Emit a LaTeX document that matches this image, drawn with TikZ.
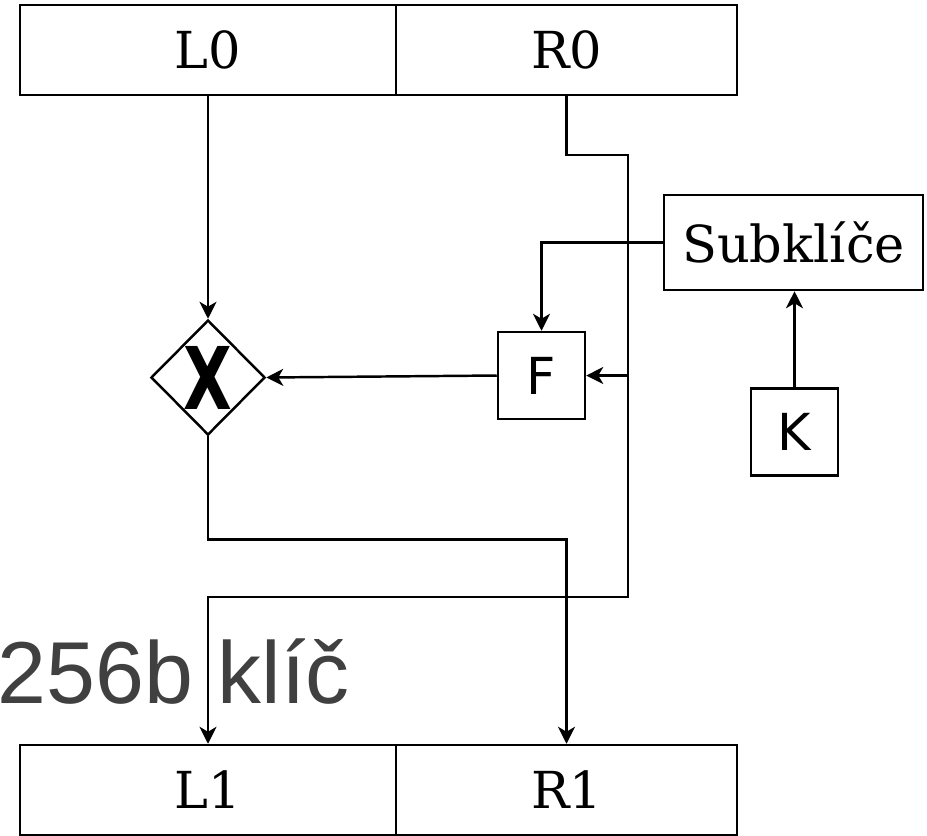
\documentclass[tikz,border=0pt]{standalone}
\usepackage{fontspec}
\setmainfont{DejaVu Serif}
\newfontfamily\dvsans{DejaVu Sans}
\newfontfamily\arialfont{Liberation Sans}
\usetikzlibrary{arrows.meta,positioning,shapes.geometric}
\definecolor{keygray}{HTML}{404040}

\begin{document}
\begin{tikzpicture}[x=0.01cm, y=-0.01cm, line width=0.7pt,
  half/.style={draw, inner sep=0pt, minimum height=0.9cm, font=\fontsize{14.5}{17}\selectfont},
  box/.style={draw, inner sep=0pt, font=\dvsans\fontsize{14.5}{17}\selectfont},
  arr/.style={-{Stealth[length=0.17cm, width=0.17cm, inset=0.05cm]}}]
  \useasboundingbox (0,0) rectangle (927,835);

  % Key size label
  \node[anchor=base east, inner sep=0pt, text=keygray, font=\arialfont\fontsize{25}{30}\selectfont] (keylabel) at (351,703) {/256b klíč};

  % Input halves
  \node[half, minimum width=3.76cm] (L0) at (208,50) {L0};
  \node[half, minimum width=3.41cm] (R0) at (566.5,50) {R0};

  % Output halves
  \node[half, minimum width=3.76cm] (L1) at (208,790) {L1};
  \node[half, minimum width=3.41cm] (R1) at (566.5,790) {R1};

  % Round function and key schedule
  \node[box, minimum size=0.87cm] (F) at (541.5,375.5) {F};
  \node[box, minimum width=2.59cm, minimum height=0.95cm, font=\rmfamily\fontsize{14.5}{17}\selectfont] (sub) at (793.5,242.5) {Subklíče};
  \node[box, minimum size=0.87cm] (K) at (794.5,432) {K};

  % XOR
  \node[draw, diamond, inner sep=0pt, minimum width=1.14cm, minimum height=1.15cm, font=\dvsans\bfseries\fontsize{24.6}{25}\selectfont] (xor) at (208,377.5) {\scalebox{0.73}[1]{X}};

  % Connectors
  \coordinate (rturn) at (628,155);
  \coordinate (rcross) at (628,597);
  \draw[arr] (L0.south) -- (xor.north);
  \draw[arr] (R0.south) |- (rturn) -- (rcross) -| (L1.north);
  \draw[arr] (rturn |- F.east) -- (F.east);
  \draw[arr] (sub.west) -| (F.north);
  \draw[arr] (K.north) -- (K.north |- sub.south);
  \draw[arr] (F.west) -- (xor.east);
  \draw[arr] (xor.south) -- ++(0,103) -| (R1.north);
\end{tikzpicture}
\end{document}
